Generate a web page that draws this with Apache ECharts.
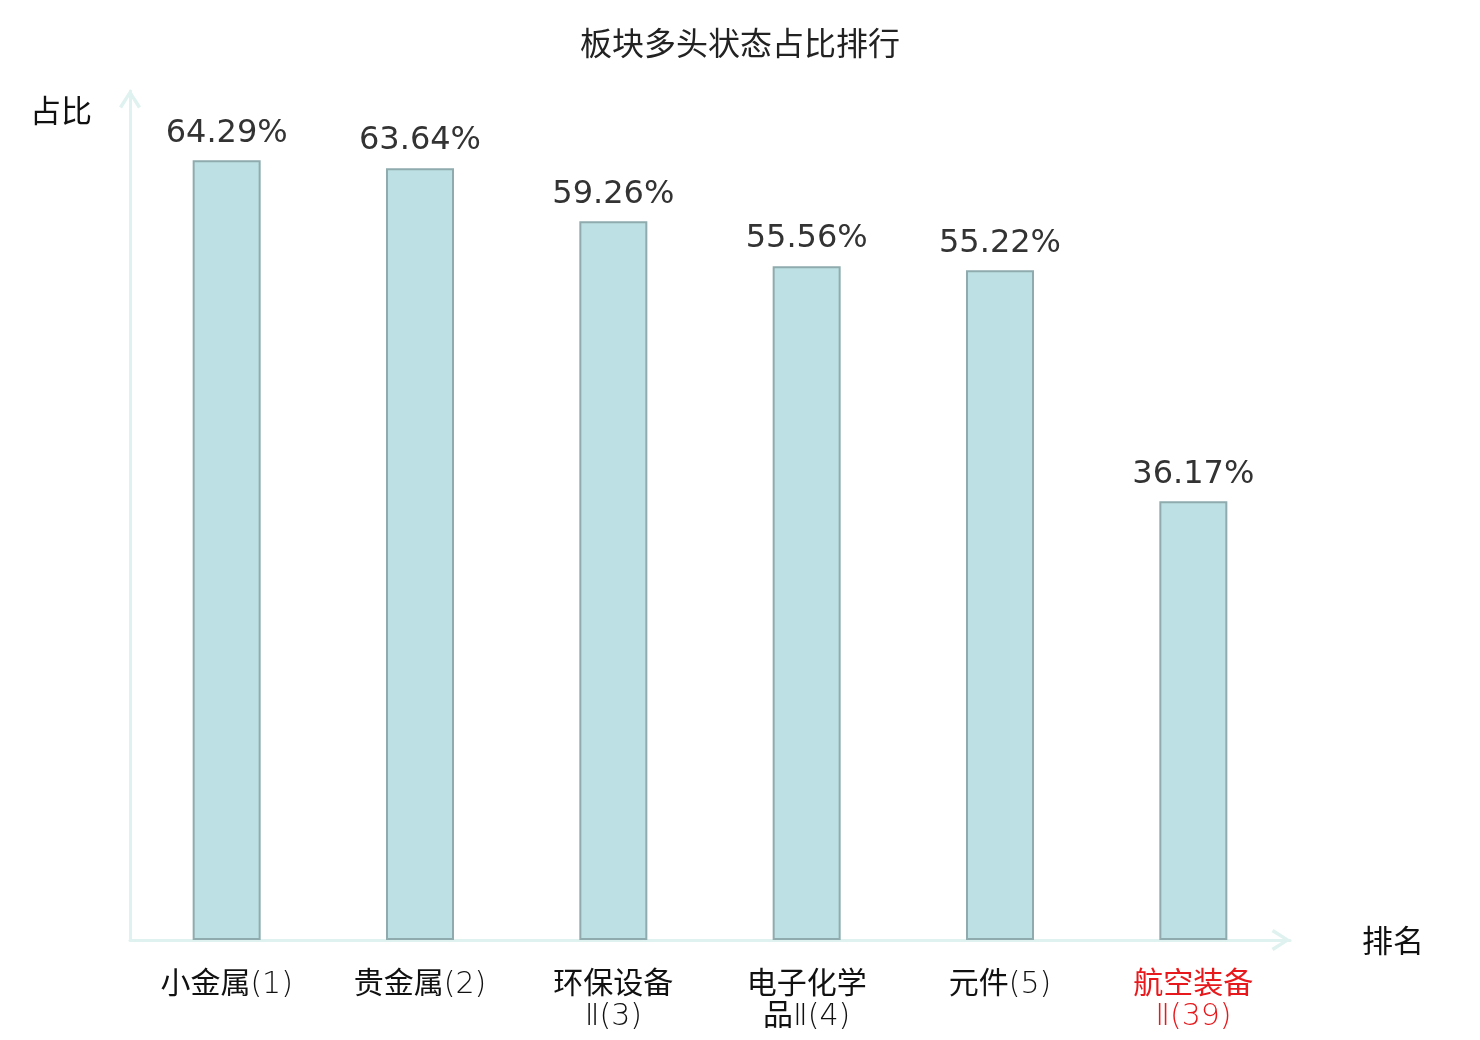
<!DOCTYPE html>
<html>
<head>
<meta charset="utf-8">
<script src="https://cdn.jsdelivr.net/npm/echarts@6/dist/echarts.min.js"></script>
<style>
  html, body { margin: 0; padding: 0; background: #fff; }
  #grafico { width: 1480px; height: 1040px; }
</style>
</head>
<body>
<div id="grafico"></div>
<script>
// Setores e fatia em estado de alta (%)
const SETORES = ["小金属(1)", "贵金属(2)", "环保设备\nⅡ(3)", "电子化学\n品Ⅱ(4)", "元件(5)", "航空装备\nⅡ(39)"];
const OCUPACAO = [64.29, 63.64, 59.26, 55.56, 55.22, 36.17];
const DESTAQUE = 5; // índice pintado em vermelho

const CJK = "'Noto Sans CJK SC', sans-serif";
const FINA = "'DejaVu Sans', sans-serif";
const EIXO = "#dff2ef";
const PRETO = "#111";
const VERMELHO = "#e8191c";
// seta aberta (chevron) na ponta dos eixos
const SETA = "path://M0,17 L11,0 L22,17 L19,19 L11,6 L3,19 Z";

// ideogramas em peso normal, números/parênteses em traço fino
function rotulo(txt, i) {
  const s = i === DESTAQUE ? "r" : "";
  return txt.split("\n").map((linha) =>
    linha.replace(/([\u4e00-\u9fff]+)|([^\u4e00-\u9fff]+)/g, (m, han) => `{${han ? "c" : "l"}${s}|${m}}`)
  ).join("\n");
}
const estilo = (cor, fam, peso, desce) => ({
  color: cor, fontFamily: fam, fontWeight: peso, fontSize: 30, lineHeight: 32, padding: [desce, 0, 0, 0],
});

const g = echarts.init(document.getElementById("grafico"));
g.setOption({
  animation: false,
  textStyle: { fontFamily: CJK },
  title: {
    text: "板块多头状态占比排行",
    left: "center",
    top: 22,
    textStyle: { fontSize: 32, fontWeight: "normal", color: "#222", fontFamily: CJK },
  },
  grid: { left: 130, right: 190, top: 91, bottom: 100 },
  xAxis: {
    type: "category",
    data: SETORES,
    name: "排名",
    nameGap: 72,
    nameTextStyle: { fontSize: 31, color: PRETO, fontFamily: CJK },
    axisLine: { symbol: ["none", SETA], symbolSize: [22, 20], symbolOffset: [0, -9], lineStyle: { color: EIXO, width: 3 } },
    axisTick: { show: false },
    axisLabel: {
      interval: 0,
      margin: 26,
      fontSize: 30,
      lineHeight: 32,
      formatter: rotulo,
      rich: {
        c: estilo(PRETO, CJK, "normal", 0),
        l: estilo(PRETO, FINA, 200, 6),
        cr: estilo(VERMELHO, CJK, "normal", 0),
        lr: estilo(VERMELHO, FINA, 200, 6),
      },
    },
  },
  yAxis: {
    type: "value",
    min: 0,
    max: 70,
    name: "占比",
    nameGap: -19,
    nameTextStyle: { fontSize: 31, color: PRETO, align: "right", verticalAlign: "middle", padding: [0, 38, 0, 0], fontFamily: CJK },
    axisLine: { show: true, symbol: ["none", SETA], symbolSize: [22, 20], symbolOffset: [0, -8], lineStyle: { color: EIXO, width: 3 } },
    axisTick: { show: false },
    axisLabel: { show: false },
    splitLine: { show: false },
  },
  series: [{
    type: "bar",
    data: OCUPACAO,
    barWidth: 68,
    itemStyle: { color: "#bce0e3", borderColor: "#8fabae", borderWidth: 2 },
    label: {
      show: true,
      position: "top",
      distance: 11,
      fontSize: 32,
      color: "#333",
      fontFamily: "DejaVu Sans, sans-serif",
      formatter: (p) => p.value.toFixed(2) + "%",
    },
  }],
});
</script>
</body>
</html>
